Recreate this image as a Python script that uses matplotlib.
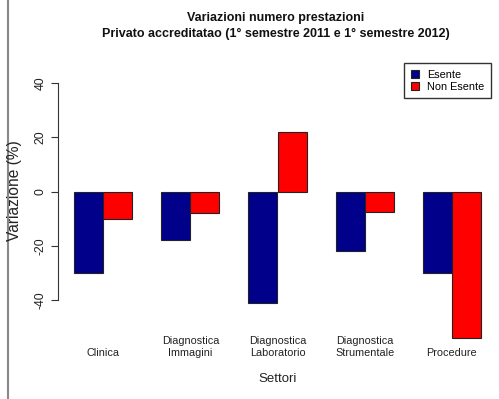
import matplotlib
matplotlib.use("Agg")
import matplotlib.pyplot as plt
from matplotlib.lines import Line2D
from matplotlib.patches import Patch
import numpy as np

plt.rcParams['font.family'] = ['Liberation Sans', 'DejaVu Sans']

categories = ["Clinica", "Diagnostica\nImmagini", "Diagnostica\nLaboratorio",
              "Diagnostica\nStrumentale", "Procedure"]
esente = [-30, -18, -41, -21.8, -30]
non_esente = [-10, -8, 21.8, -7.6, -54]
series_names = ["Esente", "Non Esente"]
colors = ["#00008B", "#FF0000"]
yticks = [-40, -20, 0, 20, 40]

W, H = 499, 399
fig = plt.figure(figsize=(W / 100, H / 100), dpi=100)
fig.patch.set_facecolor("white")

# axes placement in pixels
left, right, top, bottom = 58, 497, 74.3, 308.7
ax = fig.add_axes([left / W, 1 - bottom / H, (right - left) / W, (bottom - top) / H])

n = len(categories)
starts = np.arange(n) * 3 + 1
ax.bar(starts, esente, width=1, align='edge', color=colors[0], edgecolor="#222222",
       linewidth=0.8, clip_on=False)
ax.bar(starts + 1, non_esente, width=1, align='edge', color=colors[1], edgecolor="#222222",
       linewidth=0.8, clip_on=False)

ax.set_xlim(0.44, 15.56)
ax.set_ylim(-43.2, 43.2)
for s in ["top", "right", "bottom"]:
    ax.spines[s].set_visible(False)
ax.spines["left"].set_bounds(-40, 40)
ax.spines["left"].set_color("#333333")
ax.spines["left"].set_linewidth(0.8)
ax.set_xticks([])
ax.set_yticks(yticks)
ax.set_yticklabels([str(t) for t in yticks], rotation=90, va='center', fontsize=8.8,
                   color="#222222")
ax.tick_params(axis='y', length=4.7, width=0.8, pad=3.5, color="#333333")

# category labels
trans = matplotlib.transforms.blended_transform_factory(ax.transData, fig.transFigure)
for i, c in enumerate(categories):
    ax.text(starts[i] + 1, 1 - 358 / H, c, transform=trans, ha='center', va='bottom',
            fontsize=7.8, color="#222222")

# axis titles
fig.text(278 / W, 1 - 379 / H, "Settori", ha='center', va='center', fontsize=9.5,
         color="#222222")
fig.text(15 / W, 1 - 191 / H, "Variazione (%)", ha='center', va='center', rotation=90,
         fontsize=11.2, color="#222222")

# title
fig.text(276 / W, 1 - 18 / H, "Variazioni numero prestazioni", ha='center', va='center',
         fontsize=9, fontweight='bold', color="#111111")
fig.text(276 / W, 1 - 34 / H, "Privato accreditatao (1° semestre 2011 e 1° semestre 2012)",
         ha='center', va='center', fontsize=9, fontweight='bold', color="#111111")

# legend
handles = [Patch(facecolor=colors[0], edgecolor="#222222", linewidth=0.8),
           Patch(facecolor=colors[1], edgecolor="#222222", linewidth=0.8)]
leg = fig.legend(handles, series_names, loc='upper right',
                 bbox_to_anchor=(490.7 / W, 1 - 63 / H), fontsize=7.8,
                 handlelength=0.8, handleheight=0.8, handletextpad=0.7,
                 borderpad=0.6, labelspacing=0.2, fancybox=False, framealpha=1,
                 borderaxespad=0)
leg.get_frame().set_edgecolor("#333333")
leg.get_frame().set_linewidth(1.0)

# left gray border line
fig.add_artist(Line2D([8 / W, 8 / W], [0, 1], color="#888888", linewidth=1.5))

fig.savefig("out.png", dpi=100)
